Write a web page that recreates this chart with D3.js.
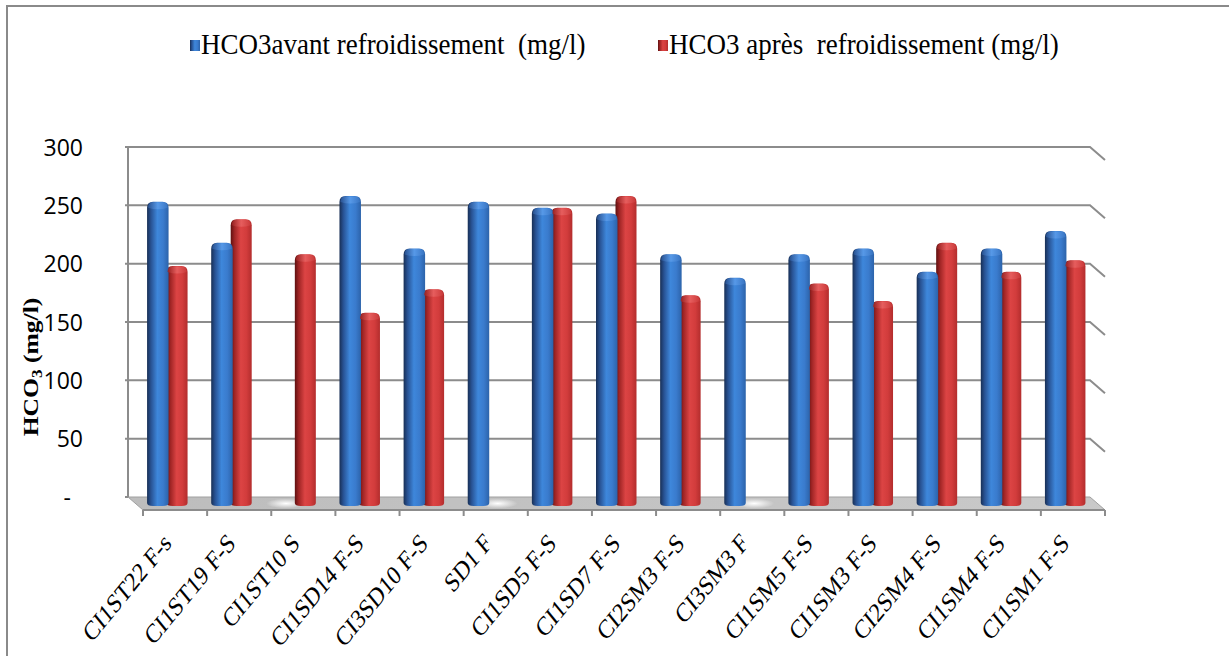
<!DOCTYPE html>
<html>
<head>
<meta charset="utf-8">
<script src="https://cdn.jsdelivr.net/npm/d3@7"></script>
<style>
  html, body { margin: 0; padding: 0; background: #fff; }
  svg { display: block; }
  text { white-space: pre; }
</style>
</head>
<body>
<svg id="chart" width="1229" height="656"></svg>
<script>
// Sampling points along the x axis
const categories = [
  "CI1ST22 F-s", "CI1ST19 F-S", "CI1ST10 S", "CI1SD14 F-S", "CI3SD10 F-S",
  "SD1 F", "CI1SD5 F-S", "CI1SD7 F-S", "CI2SM3 F-S", "CI3SM3 F",
  "CI1SM5 F-S", "CI1SM3 F-S", "CI2SM4 F-S", "CI1SM4 F-S", "CI1SM1 F-S"
];
// HCO3 (mg/l) before and after cooling; null = not measured
const beforeCooling = [250, 215, null, 255, 210, 250, 245, 240, 205, 185, 205, 210, 190, 210, 225];
const afterCooling  = [195, 235, 205, 155, 175, null, 245, 255, 170, null, 180, 165, 215, 190, 200];
const seriesNames = ["HCO3avant refroidissement  (mg/l)", "HCO3 après  refroidissement (mg/l)"];
const yTicks = [0, 50, 100, 150, 200, 250, 300];

const serif = "Liberation Serif, Times New Roman, serif";
const svg = d3.select("#chart");
const defs = svg.append("defs");

// Plot box (back wall) and depth offset of the 3D floor
const wall = { left: 128, right: 1090, top: 147, bottom: 497 };
const depth = { dx: 15, dy: 13 };
// Text in this figure is drawn slightly taller than wide
const stretch = 1.22;

const y = d3.scaleLinear().domain([0, 300]).range([wall.bottom, wall.top]);
const x = d3.scaleBand().domain(categories).range([wall.left, wall.right]);
const xSub = d3.scaleBand().domain([0, 1]).range([-20, 20]);

// Cylinder shading gradients
function hGrad(id, stops) {
  const g = defs.append("linearGradient").attr("id", id)
    .attr("x1", "0%").attr("x2", "100%").attr("y1", "0%").attr("y2", "0%");
  stops.forEach(([o, c]) => g.append("stop").attr("offset", o).attr("stop-color", c));
}
hGrad("gBlue", [["0%", "#182f55"], ["18%", "#285293"], ["48%", "#3e87db"], ["75%", "#3a7bcd"], ["100%", "#2c63aa"]]);
hGrad("gRed",  [["0%", "#5e1010"], ["18%", "#9e2424"], ["48%", "#dc4444"], ["75%", "#d23c3c"], ["100%", "#b32d2d"]]);
hGrad("gFloor", [["0%", "#bdbdbd"], ["100%", "#c9c9c9"]]);
hGrad("capBlue", [["0%", "#2a5596"], ["50%", "#5b9cea"], ["100%", "#3b78c6"]]);
hGrad("capRed", [["0%", "#9a2222"], ["50%", "#e86262"], ["100%", "#cc3c3c"]]);
const shine = defs.append("radialGradient").attr("id", "gShine");
shine.append("stop").attr("offset", "0%").attr("stop-color", "#ffffff").attr("stop-opacity", 1);
shine.append("stop").attr("offset", "100%").attr("stop-color", "#ffffff").attr("stop-opacity", 0);

// Outer frame (left and top edges)
svg.append("path").attr("d", "M7,656 V6 H1229")
  .attr("fill", "none").attr("stroke", "#8a8a8a").attr("stroke-width", 2);

// Floor
const floorPts = [
  [wall.left, wall.bottom], [wall.right, wall.bottom],
  [wall.right + depth.dx, wall.bottom + depth.dy], [wall.left + depth.dx, wall.bottom + depth.dy]
];
svg.append("polygon").attr("points", floorPts.map(p => p.join(",")).join(" "))
  .attr("fill", "url(#gFloor)").attr("stroke", "#a0a0a0").attr("stroke-width", 1);

// Gridlines on the back wall, bending toward the front on the right
const grid = svg.append("g").attr("fill", "none").attr("stroke", "#8c8c8c").attr("stroke-width", 2);
yTicks.filter(v => v > 0).forEach(v => {
  grid.append("path").attr("d", `M${wall.left - 3},${y(v)} H${wall.right} l${depth.dx},${depth.dy}`);
});
grid.append("path").attr("d", `M${wall.left},${y(300)} V${wall.bottom}`);
grid.append("path").attr("d", `M${wall.left - 3},${wall.bottom} H${wall.left}`);

// Y axis labels
const yAxis = d3.axisLeft(y).tickValues(yTicks).tickSize(0).tickPadding(45)
  .tickFormat(d => d === 0 ? "-" : d);
const yg = svg.append("g").attr("transform", `translate(${wall.left},0)`).call(yAxis);
yg.select(".domain").remove();
yg.selectAll("text").attr("font-family", "Open Sans, sans-serif").attr("font-size", 23)
  .attr("fill", "#000").attr("dy", "0.36em");
yg.selectAll(".tick").filter(d => d === 0).select("text").attr("dx", -12);

// Column geometry; each category holds two side-by-side cylinders
const bars = [];
categories.forEach((c, i) => {
  [beforeCooling[i], afterCooling[i]].forEach((v, s) => {
    const cx = x(c) + x.bandwidth() / 2 + depth.dx / 2;
    bars.push({ c, i, s, v,
      x0: cx + xSub(s) - (s === 0 ? 0.5 : 1),
      x1: cx + xSub(s) + xSub.bandwidth() + (s === 0 ? 1 : 0) });
  });
});

// Floor shine where a column is absent
svg.append("g").selectAll("ellipse").data(bars.filter(b => b.v == null)).join("ellipse")
  .attr("cx", b => (b.x0 + b.x1) / 2).attr("cy", wall.bottom + depth.dy / 2)
  .attr("rx", 20).attr("ry", 5).attr("fill", "url(#gShine)");

// Columns: red drawn first so the blue sits in front
const yBase = wall.bottom + 8;
const capLift = 3.5;
function colPath(b) {
  const top = y(b.v) - capLift, rx = 6, ry = 6, x0 = b.x0, x1 = b.x1;
  return `M${x0},${yBase - 2} L${x0},${top + ry} Q${x0},${top} ${x0 + rx},${top} ` +
         `L${x1 - rx},${top} Q${x1},${top} ${x1},${top + ry} L${x1},${yBase - 2} ` +
         `Q${x1},${yBase + 1} ${x1 - rx},${yBase + 1} L${x0 + rx},${yBase + 1} Q${x0},${yBase + 1} ${x0},${yBase - 2} Z`;
}
const drawn = bars.filter(b => b.v != null).sort((a, b) => a.i - b.i || b.s - a.s);
const cols = svg.append("g");
cols.selectAll("path.col").data(drawn).join("path").attr("class", "col")
  .attr("d", colPath).attr("fill", b => b.s === 0 ? "url(#gBlue)" : "url(#gRed)");
cols.selectAll("path.cap").data(drawn).join("path").attr("class", "cap")
  .attr("d", b => {
    const top = y(b.v) - capLift;
    return `M${b.x0 + 1},${top + 6} Q${b.x0 + 1},${top + 0.5} ${b.x0 + 6},${top + 0.5} L${b.x1 - 6},${top + 0.5} Q${b.x1 - 1},${top + 0.5} ${b.x1 - 1},${top + 6} Q${(b.x0 + b.x1) / 2},${top + 9} ${b.x0 + 1},${top + 6} Z`;
  })
  .attr("fill", b => b.s === 0 ? "url(#capBlue)" : "url(#capRed)").attr("opacity", 0.85);

// Front axis line, ticks and rotated category labels
const front = wall.bottom + depth.dy;
const xg = svg.append("g").attr("stroke", "#8c8c8c").attr("stroke-width", 2);
xg.append("path").attr("d", `M${wall.left + depth.dx},${front} H${wall.right + depth.dx}`);
const tickXs = categories.map(c => x(c) + depth.dx).concat([wall.right + depth.dx]);
xg.selectAll("line").data(tickXs).join("line")
  .attr("x1", d => d).attr("x2", d => d).attr("y1", front).attr("y2", front + 6);

svg.append("g").selectAll("text").data(categories).join("text")
  .attr("transform", c => `translate(${x(c) + depth.dx + x.bandwidth() / 2 - 8},${front + 28}) scale(1,${stretch}) rotate(-45)`)
  .attr("text-anchor", "end").attr("dy", "0.35em")
  .attr("font-family", serif).attr("font-size", 22)
  .attr("fill", "#000").text(c => c);

// Y axis title with subscript
const title = svg.append("text").attr("transform", `translate(38,367) scale(1,${stretch}) rotate(-90)`)
  .attr("text-anchor", "middle").attr("font-family", serif)
  .attr("font-weight", "bold").attr("font-size", 21).attr("fill", "#000");
title.append("tspan").text("HCO");
title.append("tspan").attr("font-size", 14).attr("dy", 4).text("3");
title.append("tspan").attr("dy", -4).text(" (mg/l)");

// Legend
const legendX = [190, 658];
const legend = svg.append("g");
seriesNames.forEach((name, s) => {
  legend.append("rect").attr("x", legendX[s]).attr("y", 40).attr("width", 10).attr("height", 11)
    .attr("fill", s === 0 ? "url(#gBlue)" : "url(#gRed)");
  legend.append("text").attr("transform", `translate(${legendX[s] + 11},54) scale(1,1.12)`)
    .attr("font-family", serif).attr("font-size", 27)
    .attr("fill", "#000").text(name);
});
</script>
</body>
</html>
